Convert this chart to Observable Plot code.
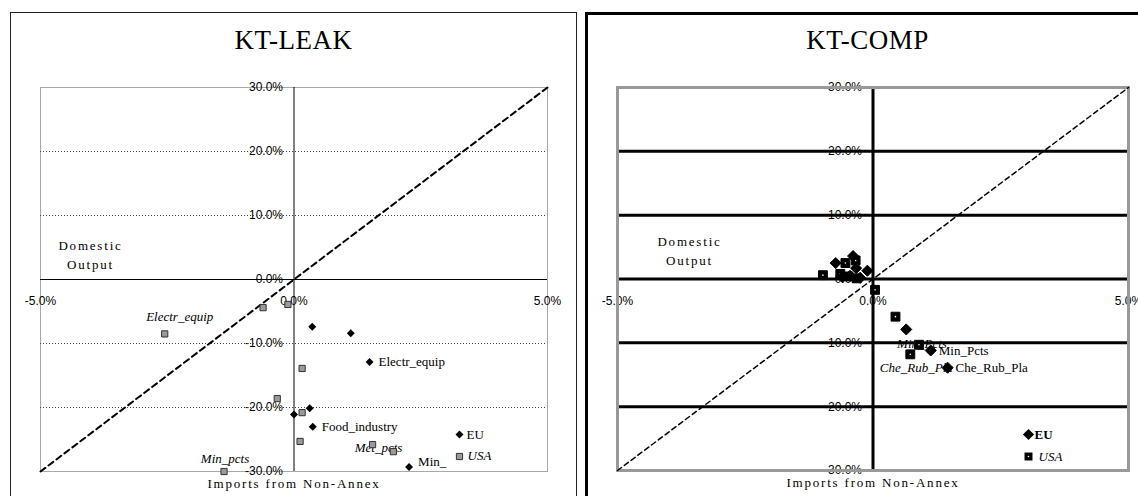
<!DOCTYPE html>
<html><head><meta charset="utf-8">
<script src="https://cdn.jsdelivr.net/npm/d3@7"></script>
<script src="https://cdn.jsdelivr.net/npm/@observablehq/plot@0.6"></script>
<style>
body{margin:0;width:1138px;height:496px;overflow:hidden;background:#fff;position:relative;font-family:"Liberation Serif",serif;}
.panel{position:absolute;box-sizing:border-box;background:#fff;}
#p1{left:10px;top:12px;width:567px;height:600px;border:1.5px solid #222;}
#p2{left:585px;top:12px;width:620px;height:600px;border:3px solid #000;}
.title{position:absolute;top:27px;height:27px;line-height:27px;font-size:27px;text-align:center;font-family:"Liberation Serif",serif;letter-spacing:0.5px;}
.chart{position:absolute;top:60px;}
</style></head>
<body>
<div class="panel" id="p1"></div>
<div class="panel" id="p2"></div>
<div class="title" style="left:40px;width:507px;">KT-LEAK</div>
<div class="title" style="left:612px;width:511px;">KT-COMP</div>
<div class="chart" id="c1" style="left:0px;"></div>
<div class="chart" id="c2" style="left:585px;"></div>
<script>
// ---- axis definitions ----
const xDomain = [-5, 5];
const yDomain = [-30, 30];
const xTicks = [-5, 0, 5];
const yTicks = [-30, -20, -10, 0, 10, 20, 30];
const leakGrid = [-20, -10, 10, 20];
const compGrid = [-20, -10, 0, 10, 20];
const axisTitle = "Imports from Non-Annex";
const sideTitle = "Domestic\nOutput";
const legendNames = ["EU", "USA"];

// ---- KT-LEAK data (% change) ----
const leakEU_x = [0.36, 1.12, 1.49, 0.31, 0.0, 0.37, 2.27];
const leakEU_y = [-7.4, -8.4, -12.9, -20.1, -21.1, -23.0, -29.3];
const leakEU_label = ["", "", "Electr_equip", "", "", "Food_industry", "Min_"];

const leakUSA_x = [-0.61, -0.12, -2.55, 0.16, -0.33, 0.16, 0.12, 1.55, 1.96, -1.38];
const leakUSA_y = [-4.4, -3.9, -8.5, -13.9, -18.6, -20.8, -25.3, -25.8, -26.9, -30.0];
const leakUSA_label = ["", "", "Electr_equip", "", "", "", "", "Met_pcts", "", "Min_pcts"];

// ---- KT-COMP data (% change) ----
const compEU_x = [-0.73, -0.39, -0.33, -0.11, -0.45, -0.25, -0.6, 0.65, 1.13, 1.46];
const compEU_y = [2.5, 3.6, 1.7, 1.3, 0.5, 0.2, 0.3, -7.9, -11.2, -13.9];
const compEU_label = ["", "", "", "", "", "", "", "", "Min_Pcts", "Che_Rub_Pla"];

const compUSA_x = [-0.54, -0.34, -0.98, -0.64, -0.48, -0.32, 0.04, 0.44, 0.90, 0.73];
const compUSA_y = [2.5, 2.9, 0.6, 0.8, 0.4, 0.1, -1.7, -5.9, -10.3, -11.8];
const compUSA_label = ["", "", "", "", "", "", "", "", "Min_Pcts", "Che_Rub_Pla"];

// ---- helpers ----
const rows = (xs, ys, ls) => xs.map((x, i) => ({x, y: ys[i], label: ls[i]}));
const fmt = d => d.toFixed(1) + "%";
const diag = xDomain.map((x, i) => ({x, y: yDomain[i]}));
const SANS = "Liberation Sans, Arial, sans-serif";
const SERIF = "Liberation Serif, Times New Roman, serif";

const leakEU = rows(leakEU_x, leakEU_y, leakEU_label);
const leakUSA = rows(leakUSA_x, leakUSA_y, leakUSA_label);
const compEU = rows(compEU_x, compEU_y, compEU_label);
const compUSA = rows(compUSA_x, compUSA_y, compUSA_label);

const is = name => d => d.label === name;

function spaced(svg) {
  d3.select(svg).selectAll("text").filter(function() {
    const t = this.textContent;
    return t.includes("Domestic") || t.includes("Imports");
  }).style("letter-spacing", "1.8px");
  return svg;
}

// ---- KT-LEAK ----
const left = Plot.plot({
  width: 570, height: 436,
  marginLeft: 40, marginRight: 23, marginTop: 27, marginBottom: 25,
  x: {domain: xDomain, axis: null},
  y: {domain: yDomain, axis: null},
  style: {background: "transparent", overflow: "visible", fontFamily: SERIF, fontSize: "13px", color: "#000"},
  marks: [
    Plot.frame({stroke: "#a8a8a8", strokeWidth: 1}),
    Plot.text(yTicks, {x: () => 0, y: d => d, text: fmt, textAnchor: "end", dx: -11, fontFamily: SANS, fontSize: 12}),
    Plot.text(xTicks, {x: d => d, y: () => 0, text: fmt, dy: 22, fontFamily: SANS, fontSize: 12}),
    Plot.ruleY(leakGrid, {stroke: "#444", strokeDasharray: "1,2"}),
    Plot.ruleY([0], {stroke: "#000", strokeWidth: 1}),
    Plot.ruleX([0], {stroke: "#000", strokeWidth: 1}),
    Plot.line(diag, {x: "x", y: "y", stroke: "#000", strokeWidth: 2, strokeDasharray: "6,4"}),
    Plot.text([sideTitle], {frameAnchor: "top-left", dx: 50, dy: 166, lineAnchor: "middle", textAnchor: "middle", text: d => d, lineHeight: 1.46, fontSize: 13}),
    Plot.text([axisTitle], {frameAnchor: "bottom", dy: 12, lineAnchor: "middle", text: d => d, fontSize: 13}),
    // EU labels
    Plot.text(leakEU, {filter: d => d.label && d.label !== "Min_", x: "x", y: "y", text: "label", textAnchor: "start", dx: 9, fontSize: 13}),
    Plot.text(leakEU, {filter: is("Min_"), x: "x", y: "y", text: "label", textAnchor: "start", dx: 9, dy: -5, fontSize: 13}),
    // USA labels
    Plot.text(leakUSA, {filter: is("Electr_equip"), x: "x", y: "y", text: "label", dx: 15, dy: -17, fontStyle: "italic", fontSize: 13}),
    Plot.text(leakUSA, {filter: is("Min_pcts"), x: "x", y: "y", text: "label", dx: 1, dy: -13, fontStyle: "italic", fontSize: 13}),
    Plot.text(leakUSA, {filter: is("Met_pcts"), x: "x", y: "y", text: "label", dx: 6, dy: 3, fontStyle: "italic", fontSize: 13}),
    Plot.dot(leakUSA, {x: "x", y: "y", symbol: "square", r: 3.5, fill: "#9a9a9a", stroke: "#333", strokeWidth: 1}),
    Plot.dot(leakEU, {x: "x", y: "y", symbol: "diamond2", r: 3.6, fill: "#000", stroke: "none"}),
    // legend
    Plot.dot([legendNames[0]], {frameAnchor: "bottom-right", dx: -88, dy: -37, symbol: "diamond2", r: 3.6, fill: "#000", stroke: "none"}),
    Plot.dot([legendNames[1]], {frameAnchor: "bottom-right", dx: -88, dy: -15, symbol: "square", r: 3.5, fill: "#9a9a9a", stroke: "#333", strokeWidth: 1}),
    Plot.text([legendNames[0]], {frameAnchor: "bottom-right", dx: -81, dy: -37, lineAnchor: "middle", text: d => d, textAnchor: "start", fontSize: 13}),
    Plot.text([legendNames[1]], {frameAnchor: "bottom-right", dx: -80, dy: -16, lineAnchor: "middle", text: d => d, textAnchor: "start", fontStyle: "italic", fontSize: 13})
  ]
});
document.getElementById("c1").appendChild(spaced(left));

// ---- KT-COMP ----
const right = Plot.plot({
  width: 553, height: 436,
  marginLeft: 32, marginRight: 10, marginTop: 27, marginBottom: 26,
  x: {domain: xDomain, axis: null},
  y: {domain: yDomain, axis: null},
  style: {background: "transparent", overflow: "visible", fontFamily: SERIF, fontSize: "13px", color: "#000"},
  marks: [
    Plot.text(yTicks, {x: () => 0, y: d => d, text: fmt, textAnchor: "end", dx: -11, fontFamily: SANS, fontSize: 12}),
    Plot.text(xTicks, {x: d => d, y: () => 0, text: fmt, dy: 22, fontFamily: SANS, fontSize: 12}),
    Plot.ruleY(compGrid, {stroke: "#000", strokeWidth: 3}),
    Plot.ruleX([0], {stroke: "#000", strokeWidth: 3}),
    Plot.frame({stroke: "#999", strokeWidth: 3}),
    Plot.line(diag, {x: "x", y: "y", stroke: "#000", strokeWidth: 1.5, strokeDasharray: "5,3.5"}),
    Plot.text([sideTitle], {frameAnchor: "top-left", dx: 72, dy: 162, lineAnchor: "middle", textAnchor: "middle", text: d => d, lineHeight: 1.46, fontSize: 13}),
    Plot.text([axisTitle], {frameAnchor: "bottom", dy: 12, lineAnchor: "middle", text: d => d, fontSize: 13}),
    // USA labels (italic)
    Plot.text(compUSA, {filter: is("Min_Pcts"), x: "x", y: "y", text: "label", dx: 3, dy: -1, fontStyle: "italic", fontSize: 13}),
    Plot.text(compUSA, {filter: is("Che_Rub_Pla"), x: "x", y: "y", text: "label", dx: 6, dy: 14, fontStyle: "italic", fontSize: 13}),
    // EU labels
    Plot.text(compEU, {filter: d => d.label, x: "x", y: "y", text: "label", textAnchor: "start", dx: 8, fontSize: 13}),
    Plot.dot(compUSA, {x: "x", y: "y", symbol: "square", r: 5, fill: "#000", stroke: "#000", strokeWidth: 1, strokeLinejoin: "round"}),
    Plot.dot(compUSA, {x: "x", y: "y", r: 0.8, fill: "#fff"}),
    Plot.dot(compEU, {x: "x", y: "y", symbol: "diamond2", r: 5, fill: "#000", stroke: "#000", strokeWidth: 1, strokeLinejoin: "round"}),
    // legend
    Plot.dot([legendNames[0]], {frameAnchor: "bottom-right", dx: -100, dy: -36, symbol: "diamond2", r: 5, fill: "#000", stroke: "none"}),
    Plot.dot([legendNames[1]], {frameAnchor: "bottom-right", dx: -100, dy: -14, symbol: "square", r: 4.5, fill: "#000"}),
    Plot.dot([legendNames[1]], {frameAnchor: "bottom-right", dx: -100, dy: -14, r: 0.8, fill: "#fff"}),
    Plot.text([legendNames[0]], {frameAnchor: "bottom-right", dx: -94, dy: -36, lineAnchor: "middle", text: d => d, textAnchor: "start", fontWeight: "bold", fontSize: 13}),
    Plot.text([legendNames[1]], {frameAnchor: "bottom-right", dx: -90, dy: -14, lineAnchor: "middle", text: d => d, textAnchor: "start", fontStyle: "italic", fontSize: 13})
  ]
});
document.getElementById("c2").appendChild(spaced(right));
</script>
</body></html>
